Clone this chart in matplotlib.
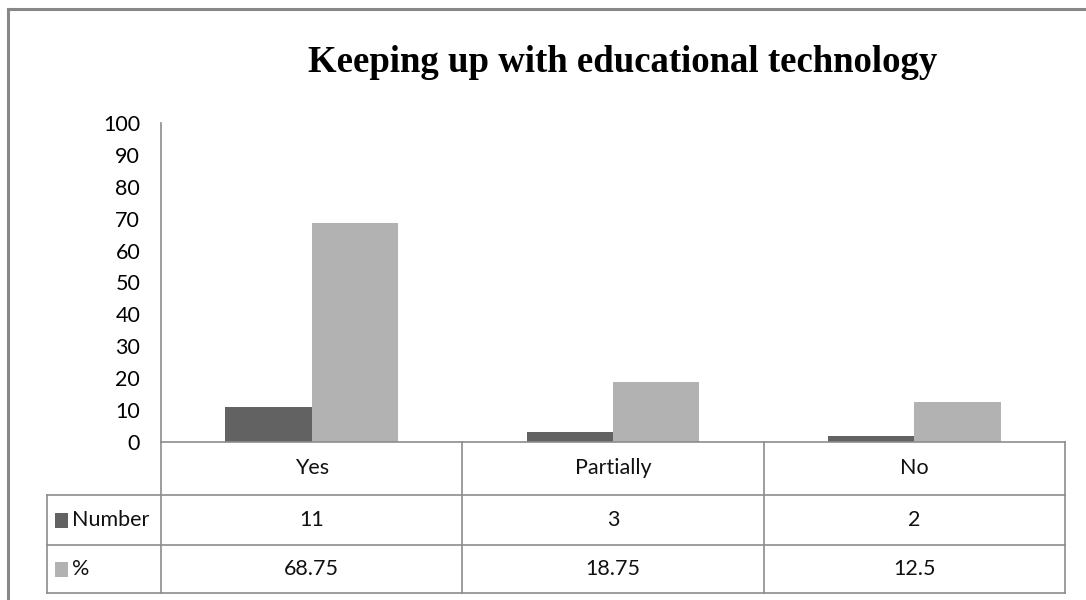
import matplotlib
matplotlib.use("Agg")
import matplotlib.pyplot as plt
from matplotlib.transforms import blended_transform_factory
from matplotlib.lines import Line2D
from matplotlib.patches import Rectangle

categories = ["Yes", "Partially", "No"]
number_vals = [11, 3, 2]
percent_vals = [68.75, 18.75, 12.5]
number_labels = ["11", "3", "2"]
percent_labels = ["68.75", "18.75", "12.5"]
series_names = ["Number", "%"]
yticks = list(range(0, 101, 10))
title = "Keeping up with educational technology"

DARK = "#626262"
LIGHT = "#b2b2b2"
GRID = "#8c8c8c"
W, H = 1086, 600

fig = plt.figure(figsize=(W / 100, H / 100), dpi=100)
fig.patch.set_facecolor("white")

def fy(y):
    return 1 - y / H

def fx(x):
    return x / W

ax = fig.add_axes([fx(161), fy(442), fx(1065) - fx(161), (442 - 123) / H])
n = len(categories)
xs = [i + 0.5 for i in range(n)]
bw = 0.286
ax.bar([x - bw / 2 for x in xs], number_vals, width=bw, color=DARK, zorder=2)
ax.bar([x + bw / 2 for x in xs], percent_vals, width=bw, color=LIGHT, zorder=2)
ax.set_xlim(0, n)
ax.set_ylim(0, 100)
ax.set_yticks(yticks)
ax.set_yticklabels([str(t) for t in yticks], fontfamily="Lato", fontsize=15.5)
ax.tick_params(axis="y", length=0, pad=15)
ax.set_xticks([])
for s in ["top", "right"]:
    ax.spines[s].set_visible(False)
for s in ["left", "bottom"]:
    ax.spines[s].set_color(GRID)
    ax.spines[s].set_linewidth(1.2)

# outer border (top and left)
fig.add_artist(Line2D([fx(8), 1.0], [fy(9), fy(9)], transform=fig.transFigure, color="#888888", lw=2.2))
fig.add_artist(Line2D([fx(8), fx(8)], [fy(9), 0], transform=fig.transFigure, color="#888888", lw=2.2))

# title
fig.text(fx(623), fy(72), title, ha="center", va="baseline", fontfamily="Liberation Serif",
         fontweight="bold", fontsize=26.5)

# data table
bt = blended_transform_factory(ax.transData, fig.transFigure)
rows_y = [442, 495, 545, 593]
for i in range(n + 1):
    ax.add_line(Line2D([i, i], [fy(442), fy(593)], transform=bt, color=GRID, lw=1.2, clip_on=False))
for y in rows_y[1:]:
    fig.add_artist(Line2D([fx(47), fx(1065)], [fy(y), fy(y)], transform=fig.transFigure, color=GRID, lw=1.2))
fig.add_artist(Line2D([fx(47), fx(47)], [fy(495), fy(593)], transform=fig.transFigure, color=GRID, lw=1.2))

tfont = dict(fontfamily="Lato", fontsize=15.5, color="#111111")
for x, c in zip(xs, categories):
    ax.text(x, fy(468), c, transform=bt, ha="center", va="center", **tfont)
for x, v in zip(xs, number_labels):
    ax.text(x, fy(520), v, transform=bt, ha="center", va="center", **tfont)
for x, v in zip(xs, percent_labels):
    ax.text(x, fy(569), v, transform=bt, ha="center", va="center", **tfont)

for yc, name, col in [(520, series_names[0], DARK), (569, series_names[1], LIGHT)]:
    fig.add_artist(Rectangle((fx(55), fy(yc + 8)), fx(13), 15 / H, transform=fig.transFigure,
                             facecolor=col, edgecolor="none"))
    fig.text(fx(72), fy(yc), name, ha="left", va="center", **tfont)

fig.savefig("out.png", dpi=100, facecolor="white")
